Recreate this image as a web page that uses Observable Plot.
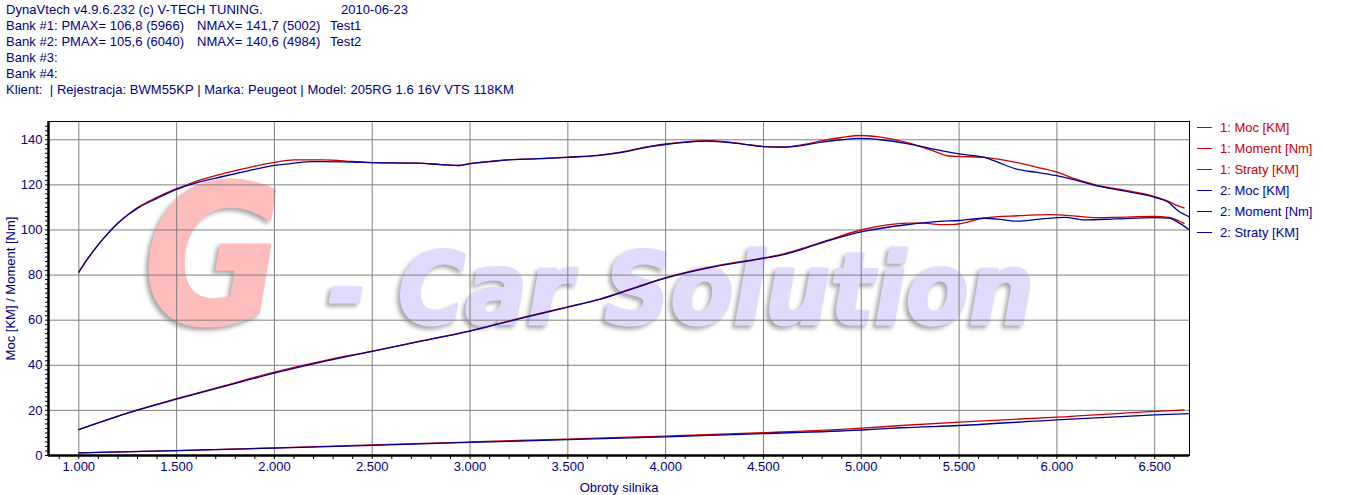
<!DOCTYPE html>
<html><head><meta charset="utf-8">
<script src="https://cdn.jsdelivr.net/npm/d3@7"></script>
<script src="https://cdn.jsdelivr.net/npm/@observablehq/plot@0.6"></script>
<style>
body{margin:0;background:#fff;font-family:"Liberation Sans",Arial,sans-serif;}
#wrap{position:relative;width:1350px;height:495px;overflow:hidden;background:#fff}
#chart{position:absolute;left:0;top:0}
#header{position:absolute;left:6px;top:2px;font-size:13px;line-height:16px;color:#000080;white-space:pre;letter-spacing:0.05px}
#header .row{position:relative;height:16px}
#header .seg{position:absolute;top:0}
#legend{position:absolute;left:1197px;top:117px;font-size:13px}
#legend .item{height:21px;line-height:21px;white-space:pre;position:relative}
#legend .sw{position:absolute;left:0;top:10px;width:15px;height:1px}
#legend .lab{position:absolute;left:23px;top:0}
</style></head><body>
<div id="wrap"><div id="chart"></div><div id="header"></div><div id="legend"></div></div>
<script>
// ---------- data ----------
const headerRows = [
  ["DynaVtech v4.9.6.232 (c) V-TECH TUNING.", "", "2010-06-23"],
  ["Bank #1: PMAX= 106,8 (5966)", "NMAX= 141,7 (5002)", "Test1"],
  ["Bank #2: PMAX= 105,6 (6040)", "NMAX= 140,6 (4984)", "Test2"],
  ["Bank #3:", "", ""],
  ["Bank #4:", "", ""],
  ["Klient:  | Rejestracja: BWM55KP | Marka: Peugeot | Model: 205RG 1.6 16V VTS 118KM", "", ""]
];
const legendLabels = ["1: Moc [KM]","1: Moment [Nm]","1: Straty [KM]","2: Moc [KM]","2: Moment [Nm]","2: Straty [KM]"];
const xTicks = [1000,1500,2000,2500,3000,3500,4000,4500,5000,5500,6000,6500];
const yTicks = [0,20,40,60,80,100,120,140];
const xLabel = "Obroty silnika";
const yLabel = "Moc [KM] / Moment [Nm]";
const watermark = ["G", "- Car Solution"];

// Test1 (red) – Moment [Nm]
const moment1Rpm = [1000,1050,1100,1150,1200,1250,1300,1400,1500,1600,1730,1850,2000,2100,2250,2400,2500,2730,2850,2945,3000,3100,3200,3350,3500,3650,3770,3900,4000,4100,4200,4300,4400,4500,4600,4700,4800,4900,5000,5100,5240,5350,5450,5500,5630,5700,5790,5900,6000,6100,6200,6350,6500,6570,6610,6650];
const moment1    = [81.3,87.8,93.5,98.6,103.1,106.8,109.9,114.5,118.3,121.6,124.8,127.3,130.0,131.1,131.1,130.4,129.9,129.6,129.0,128.6,129.4,130.4,131.2,131.6,132.3,133.1,134.5,136.8,138.2,139.1,139.6,139.2,138.1,137.0,136.8,137.8,139.6,141.0,141.9,141.2,138.6,135.6,132.8,132.6,132.2,131.4,130.0,127.8,125.6,122.5,119.9,117.6,114.8,112.7,111.0,109.8];
// Test2 (blue) – Moment [Nm]
const moment2Rpm = [1000,1050,1100,1150,1200,1250,1300,1400,1500,1600,1730,1870,2000,2100,2190,2350,2500,2730,2850,2945,3000,3100,3200,3350,3500,3650,3770,3900,4000,4100,4200,4300,4400,4500,4600,4700,4800,4900,4984,5100,5240,5350,5500,5630,5700,5790,5900,6000,6100,6200,6350,6500,6570,6620,6678];
const moment2    = [81.3,87.8,93.5,98.6,103.0,106.6,109.6,114.0,118.0,120.9,123.6,126.3,128.6,129.6,130.3,130.2,129.9,129.6,129.0,128.6,129.4,130.3,131.1,131.6,132.2,133.0,134.3,136.6,137.9,138.8,139.4,139.0,138.0,137.0,136.7,137.5,139.0,140.0,140.6,140.0,138.2,136.2,133.7,132.2,130.0,127.1,125.5,124.1,122.0,119.7,117.2,114.5,112.3,108.5,105.8];

// Test1 (red) – Moc [KM]
const moc1Rpm = [1000,1250,1500,1750,2000,2250,2500,2750,3000,3250,3500,3667,3837,4000,4250,4500,4604,4700,4834,5004,5240,5320,5400,5480,5632,5799,5966,6100,6200,6300,6494,6573,6620,6650];
const moc1    = [11.5,18.9,25.2,31.1,37.0,42.0,46.3,50.8,55.3,60.8,65.9,69.5,74.3,78.9,84.0,87.6,89.4,91.8,95.6,100.1,103.0,103.0,102.4,102.5,105.4,106.3,106.8,106.1,105.5,105.6,106.0,105.6,104.2,102.9];
// Test2 (blue) – Moc [KM]
const moc2Rpm = [1000,1250,1500,1750,2000,2250,2500,2750,3000,3250,3500,3667,3837,4000,4250,4500,4604,4700,4834,5024,5240,5400,5500,5632,5720,5799,5900,6000,6040,6142,6300,6494,6573,6630,6678];
const moc2    = [11.5,18.8,25.0,30.8,36.5,41.6,46.2,50.7,55.2,60.6,65.8,69.3,74.1,78.6,83.7,87.4,89.1,91.5,95.3,99.6,102.4,103.8,104.2,105.2,104.6,103.9,104.7,105.5,105.6,104.5,104.9,105.5,105.3,102.8,100.0];

// Straty [KM]
const straty1Rpm = [1000,1500,2000,2500,3000,3500,4000,4500,5000,5206,5500,6000,6500,6650];
const straty1    = [1.2,2.2,3.4,4.7,6.0,7.3,8.6,10.1,12.1,13.3,14.8,17.0,19.6,20.2];
const straty2Rpm = [1000,1500,2000,2500,3000,3500,4000,4500,5000,5206,5500,6000,6500,6678];
const straty2    = [1.2,2.2,3.3,4.5,5.8,7.0,8.3,9.7,11.3,12.3,13.3,15.8,18.0,18.6];

// ---------- styles ----------
const RED = "#cc0000", BLUE = "#000099", NAVY = "#000080", GRID = "#808080";
const seriesColors = [RED, RED, RED, BLUE, BLUE, BLUE];

const toRows = (rpm, vals) => rpm.map((r, i) => ({rpm: r, value: vals[i]}));
const series = [
  {rows: toRows(moc1Rpm, moc1), color: RED},
  {rows: toRows(moment1Rpm, moment1), color: RED},
  {rows: toRows(straty1Rpm, straty1), color: RED},
  {rows: toRows(moc2Rpm, moc2), color: BLUE},
  {rows: toRows(moment2Rpm, moment2), color: BLUE},
  {rows: toRows(straty2Rpm, straty2), color: BLUE}
];

const fmtX = d => d3.format(",")(d).replace(",", ".");
const xMinor = d3.range(900, 6700, 100);
const yMinor = d3.range(0, 148, 2);

const chart = Plot.plot({
  width: 1350, height: 495,
  marginTop: 121, marginLeft: 48, marginRight: 161, marginBottom: 40,
  style: {fontFamily: "'Liberation Sans', Arial, sans-serif", fontSize: "13px", background: "transparent", color: NAVY},
  x: {domain: [845, 6678]},
  y: {domain: [0, 148.1]},
  marks: [
    Plot.gridX(xTicks, {stroke: GRID, strokeOpacity: 1}),
    Plot.gridY(yTicks, {stroke: GRID, strokeOpacity: 1}),
    ...series.map(s => Plot.line(s.rows, {x: "rpm", y: "value", stroke: s.color, strokeWidth: 1.3, curve: "monotone-x"})),
    Plot.axisX(xMinor, {tickSize: 4, text: null, stroke: "black", label: null}),
    Plot.axisX(xTicks, {tickSize: 0, tickPadding: 6, tickFormat: fmtX, fill: NAVY, label: null, fontSize: 13}),
    Plot.axisY(yMinor, {tickSize: 3, text: null, stroke: "black", label: null}),
    Plot.axisY(yTicks, {tickSize: 0, tickPadding: 6, fill: NAVY, label: null, fontSize: 13}),
    Plot.frame({stroke: "black"}),
    Plot.ruleX([845], {stroke: "black", strokeWidth: 2.5}),
    Plot.ruleY([0], {stroke: "black", strokeWidth: 2.5}),
    Plot.text([xLabel], {frameAnchor: "bottom", dy: 32, lineAnchor: "middle", textAnchor: "middle", fill: NAVY, fontSize: 13}),
    Plot.text([yLabel], {frameAnchor: "left", dx: -38, rotate: -90, textAnchor: "middle", lineAnchor: "middle", fill: NAVY, fontSize: 13})
  ]
});
document.getElementById("chart").appendChild(chart);

// watermark (background decoration, behind the grid)
const wm = d3.select(chart).insert("g", "g")
  .attr("font-family", "'DejaVu Sans', sans-serif").attr("font-weight", "bold").attr("font-style", "oblique")
  .attr("text-anchor", "start");
const addWm = (txt, x, y, size, len, fill) => {
  wm.append("text").text(txt).attr("x", x).attr("y", y).attr("font-size", size)
    .attr("textLength", len).attr("lengthAdjust", "spacingAndGlyphs")
    .attr("fill", fill).attr("stroke", fill).attr("stroke-width", 3).attr("stroke-linejoin", "round")
    .style("filter", "drop-shadow(-3px 3px 2px #a8a8a8)");
};
addWm(watermark[0], 144, 323, 192, 138, "#ffbcbc");
addWm(watermark[1], 328, 324, 100, 706, "#e2dafc");

// header
const header = document.getElementById("header");
const segX = [0, 191, 324];
headerRows.forEach(r => {
  const row = document.createElement("div"); row.className = "row";
  r.forEach((t, i) => { if (!t) return; const s = document.createElement("span"); s.className = "seg"; s.style.left = (i === 2 && r[1] === "" ? 335 : segX[i]) + "px"; s.textContent = t; row.appendChild(s); });
  header.appendChild(row);
});
// legend
const legend = document.getElementById("legend");
legendLabels.forEach((t, i) => {
  const it = document.createElement("div"); it.className = "item";
  it.innerHTML = `<span class="sw" style="background:${seriesColors[i]}"></span><span class="lab" style="color:${seriesColors[i]}">${t}</span>`;
  legend.appendChild(it);
});
</script>
</body></html>
